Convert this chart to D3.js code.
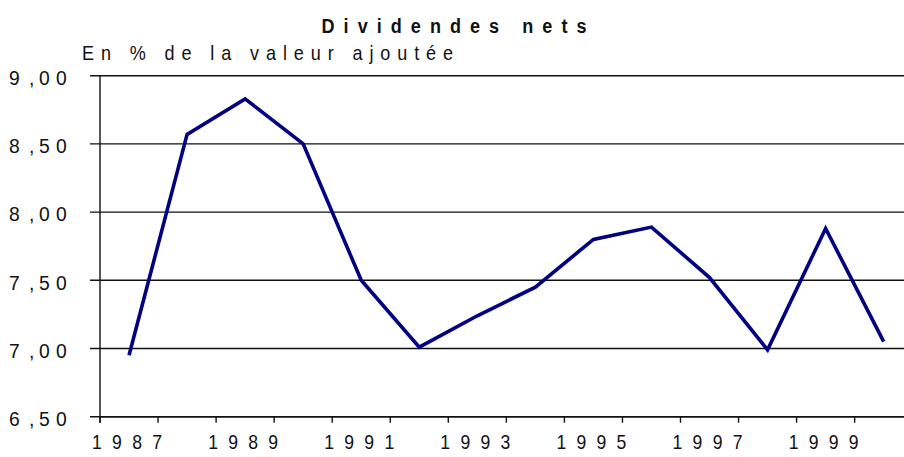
<!DOCTYPE html>
<html>
<head>
<meta charset="utf-8">
<script src="https://cdn.jsdelivr.net/npm/d3@7"></script>
<style>
  html, body { margin: 0; padding: 0; background: #fff; }
  svg { display: block; }
  text { font-family: "Liberation Sans", Arial, sans-serif; fill: #111; }
</style>
</head>
<body>
<svg id="chart" width="904" height="457"></svg>
<script>
// Dividendes nets, en % de la valeur ajoutée
const years = [1987, 1988, 1989, 1990, 1991, 1992, 1993, 1994, 1995, 1996, 1997, 1998, 1999, 2000];
const dividendes = [6.95, 8.57, 8.83, 8.50, 7.50, 7.01, 7.24, 7.45, 7.80, 7.89, 7.52, 6.99, 7.88, 7.05];
const yTicks = [6.5, 7.0, 7.5, 8.0, 8.5, 9.0];
const xTickLabels = [1987, 1989, 1991, 1993, 1995, 1997, 1999];

const title = "Dividendes nets";
const subtitle = "En % de la valeur ajoutée";

const W = 904, H = 457;
const plotLeft = 100, plotTop = 75.7, plotBottom = 416.7, step = 58.05;
const SX = 0.88; // horizontal squeeze of the lettering

const svg = d3.select("#chart");

const x = d3.scaleBand()
  .domain(years)
  .range([plotLeft, plotLeft + step * years.length])
  .padding(0);

const y = d3.scaleLinear()
  .domain([6.5, 9])
  .range([plotBottom, plotTop]);

const fr = d3.formatLocale({ decimal: ",", thousands: " ", grouping: [3], currency: ["", " €"] });
const fmt = fr.format(".2f");

// spaced, slightly condensed text stretched to a given width
function label(g, str, px, py, width, anchor, size, weight) {
  return g.append("text")
    .attr("transform", `translate(${px},${py}) scale(${SX},1)`)
    .attr("text-anchor", anchor)
    .attr("font-size", size)
    .attr("font-weight", weight || "normal")
    .attr("textLength", width / SX)
    .attr("lengthAdjust", "spacing")
    .text(str);
}

// horizontal gridlines
svg.append("g")
  .selectAll("line")
  .data(yTicks)
  .join("line")
  .attr("x1", plotLeft - 10)
  .attr("x2", W)
  .attr("y1", d => y(d))
  .attr("y2", d => y(d))
  .attr("stroke", "#111")
  .attr("stroke-width", 1.4);

// y axis line
svg.append("line")
  .attr("x1", plotLeft).attr("x2", plotLeft)
  .attr("y1", plotTop).attr("y2", plotBottom + 6)
  .attr("stroke", "#111").attr("stroke-width", 1.4);

// y tick labels: "9 ,0 0" style, comma hugging the decimals
const yLab = svg.append("g");
yTicks.forEach(v => {
  const [ip, dp] = fmt(v).split(",");
  const t = yLab.append("text")
    .attr("transform", `translate(9,${y(v) + 9.3}) scale(0.92,1)`)
    .attr("font-size", 21)
    .attr("letter-spacing", "7px")
    .attr("fill", "#222");
  t.append("tspan").text(ip);
  t.append("tspan").attr("dx", 3).text(",");
  t.append("tspan").attr("dx", -2).text(dp);
});

// x axis: ticks between categories
const xAxis = svg.append("g");
xAxis.append("line")
  .attr("x1", plotLeft).attr("x2", W)
  .attr("y1", plotBottom).attr("y2", plotBottom)
  .attr("stroke", "#111").attr("stroke-width", 1.4);
xAxis.selectAll("line.tk")
  .data(years)
  .join("line")
  .attr("class", "tk")
  .attr("x1", d => x(d)).attr("x2", d => x(d))
  .attr("y1", plotBottom).attr("y2", plotBottom + 6)
  .attr("stroke", "#111").attr("stroke-width", 1.4);
xTickLabels.forEach(yr =>
  label(xAxis, String(yr), x(yr) + x.bandwidth() / 2 - 2, 449, 70, "middle", 20)
    .attr("fill", "#222"));

// series line
const line = d3.line()
  .x((d, i) => x(years[i]) + x.bandwidth() / 2)
  .y(d => y(d));

svg.append("path")
  .datum(dividendes)
  .attr("d", line)
  .attr("fill", "none")
  .attr("stroke", "#000080")
  .attr("stroke-width", 3.6)
  .attr("stroke-linejoin", "miter");

// titles
label(svg, title, 321.5, 32.5, 265, "start", 20.5, "bold");
label(svg, subtitle, 82, 60, 371, "start", 20.5);
</script>
</body>
</html>
